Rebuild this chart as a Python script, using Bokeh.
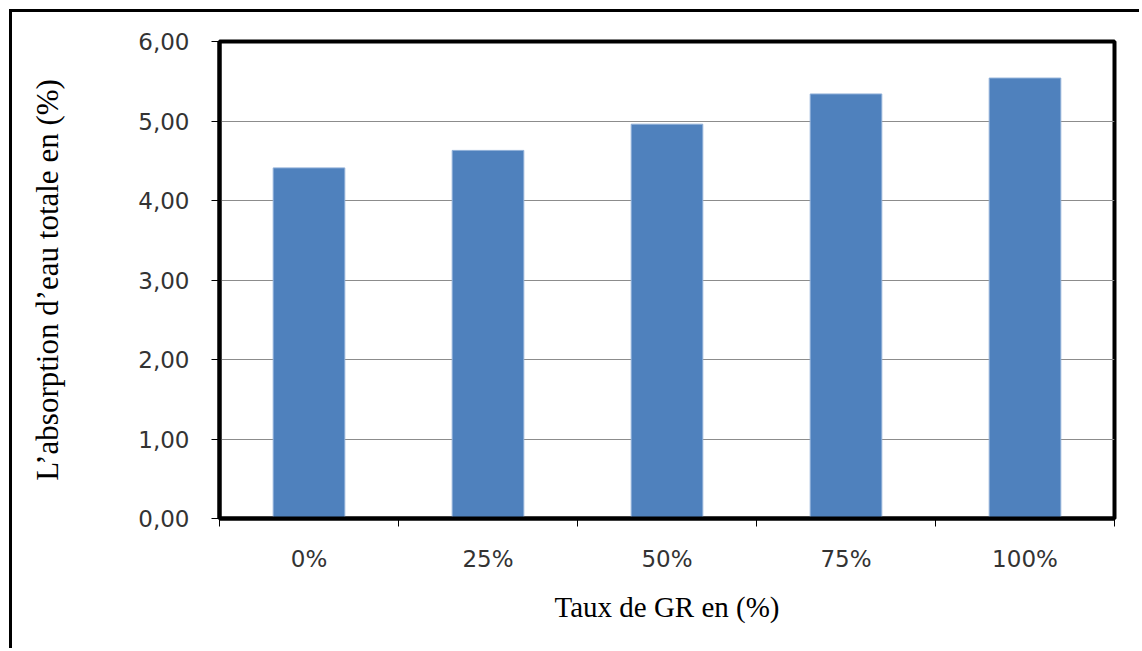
from bokeh.plotting import figure
from bokeh.models import FixedTicker, Range1d, LinearAxis, ColumnDataSource
from bokeh.embed import file_html
from bokeh.resources import INLINE

categories = ["0%", "25%", "50%", "75%", "100%"]
values = [4.41, 4.63, 4.96, 5.34, 5.54]
y_ticks = [0, 1, 2, 3, 4, 5, 6]
y_tick_labels = ["0,00", "1,00", "2,00", "3,00", "4,00", "5,00", "6,00"]
x_title = "Taux de GR en (%)"
y_title = "L’absorption d’eau totale en (%)"

centers = [i + 0.5 for i in range(len(categories))]
boundaries = list(range(len(categories) + 1))

p = figure(width=1130, height=639, output_backend="svg", toolbar_location=None,
           x_range=Range1d(0, len(categories)), y_range=Range1d(0, 6),
           x_axis_location=None, y_axis_location=None,
           min_border_left=207, min_border_right=28, min_border_top=29, min_border_bottom=133)
p.margin = (9, 0, 0, 9)
p.styles = {"border-top": "3px solid black", "border-left": "3px solid black"}

src = ColumnDataSource(dict(x=centers, top=values))
p.vbar(x="x", top="top", bottom=0, width=0.4, source=src,
       fill_color="#4F81BD", line_color="#8FAFD8", line_width=1)

yax = LinearAxis(ticker=FixedTicker(ticks=y_ticks, minor_ticks=[]),
                 major_label_overrides={t: l for t, l in zip(y_ticks, y_tick_labels)})
yax.axis_label = y_title
yax.axis_label_text_font = "Liberation Serif"
yax.axis_label_text_font_size = "31px"
yax.axis_label_text_font_style = "normal"
yax.axis_label_text_color = "black"
yax.axis_label_standoff = 70
yax.major_label_text_font = "DejaVu Sans"
yax.major_label_text_font_size = "23px"
yax.major_label_text_color = "#333333"
yax.major_label_standoff = 22
yax.major_tick_out = 8
yax.major_tick_in = 0
yax.major_tick_line_color = "black"
yax.major_tick_line_width = 1
yax.axis_line_color = "black"
yax.axis_line_width = 4
p.add_layout(yax, "left")

xax = LinearAxis(ticker=FixedTicker(ticks=centers, minor_ticks=boundaries),
                 major_label_overrides={c: l for c, l in zip(centers, categories)})
xax.axis_label = x_title
xax.axis_label_text_font = "Liberation Serif"
xax.axis_label_text_font_size = "29px"
xax.axis_label_text_font_style = "normal"
xax.axis_label_text_color = "black"
xax.axis_label_standoff = 16
xax.major_label_text_font = "DejaVu Sans"
xax.major_label_text_font_size = "23px"
xax.major_label_text_color = "#333333"
xax.major_label_standoff = 19
xax.major_tick_out = 0
xax.major_tick_in = 0
xax.minor_tick_out = 8
xax.minor_tick_in = 0
xax.minor_tick_line_color = "black"
xax.minor_tick_line_width = 1
xax.axis_line_color = "black"
xax.axis_line_width = 4
p.add_layout(xax, "below")

p.xgrid.visible = False
p.ygrid.ticker = FixedTicker(ticks=y_ticks)
p.ygrid.grid_line_color = "#8c8c8c"
p.ygrid.grid_line_width = 1

p.outline_line_color = "black"
p.outline_line_width = 4
p.outline_line_alpha = 1
p.background_fill_color = "white"
p.border_fill_color = "white"

open("out.html", "w").write(file_html(p, INLINE))
